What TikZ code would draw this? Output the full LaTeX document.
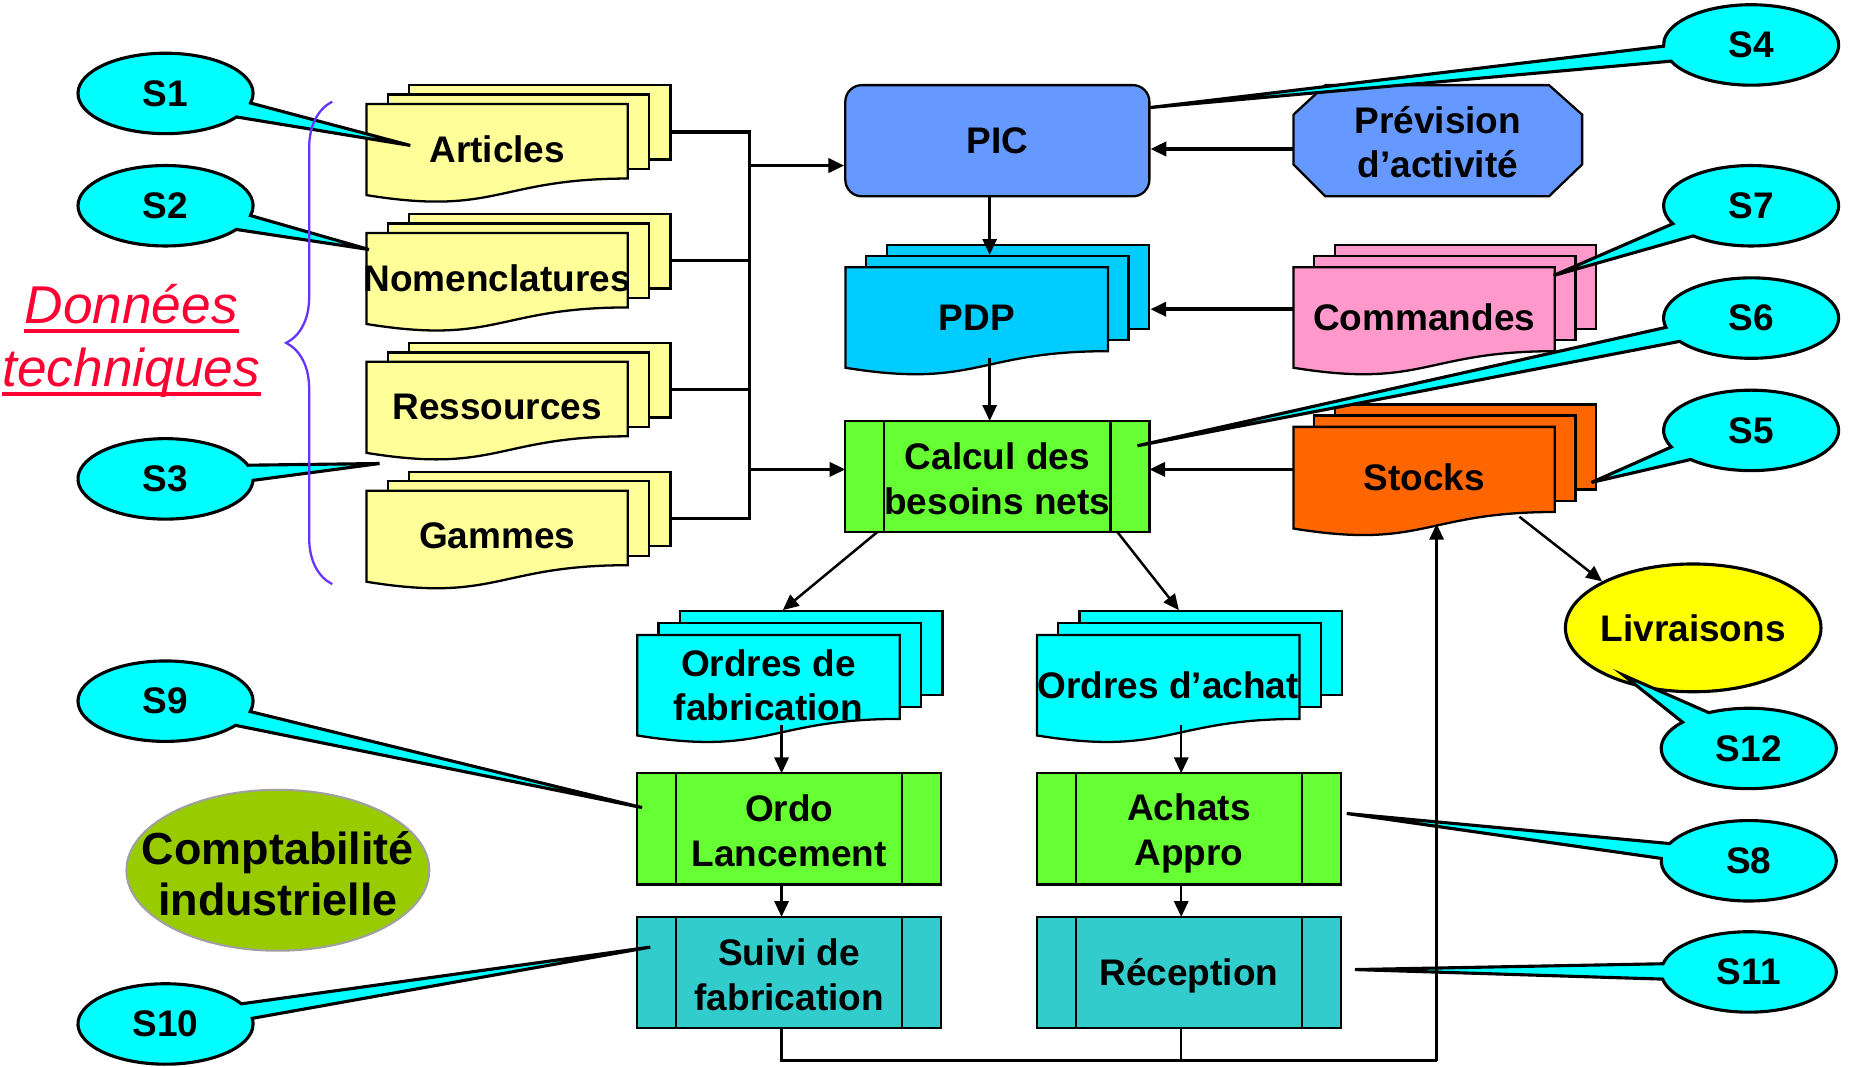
\documentclass[tikz,border=0pt]{standalone}
\usepackage{fontspec}
\setmainfont{Liberation Sans}
\usetikzlibrary{shapes.geometric,shapes.callouts,arrows.meta,calc,decorations.pathreplacing}
\definecolor{yel}{HTML}{FFFF99}
\definecolor{blu}{HTML}{6699FF}
\definecolor{pdpc}{HTML}{00CCFF}
\definecolor{pink}{HTML}{FF99CC}
\definecolor{grn}{HTML}{66FF33}
\definecolor{org}{HTML}{FF6600}
\definecolor{cyn}{HTML}{00FFFF}
\definecolor{teal}{HTML}{33CCCC}
\definecolor{liv}{HTML}{FFFF00}
\definecolor{cmpt}{HTML}{99CC00}
\definecolor{cmptb}{HTML}{A0A0A0}
\definecolor{dred}{HTML}{FF0033}
\definecolor{brc}{HTML}{6633FF}
\newcommand\lblfont{\fontsize{8.9}{10.7}\selectfont\bfseries}
% name, x, y, w, h, dx, dy, colour, text
\newcommand\mdoc[9]{%
  \node[docbox, fill=#8, minimum width={(#4)*0.01cm}, minimum height={(#5)*0.01cm}] (#1-b) at ({#2+2*(#6)+0.5*(#4)},{#3+2*(#7)+0.5*(#5)}) {};
  \node[docbox, fill=#8, minimum width={(#4)*0.01cm}, minimum height={(#5)*0.01cm}] (#1-m) at ({#2+(#6)+0.5*(#4)},{#3+(#7)+0.5*(#5)}) {};
  \node[inner sep=0pt, outer sep=0pt, minimum width={(#4)*0.01cm}, minimum height={(#5)*0.01cm}] (#1) at ({#2+0.5*(#4)},{#3+0.5*(#5)}) {};
  \draw[docline, fill=#8] (#1.north west) -- (#1.north east) -- (#1.south east) .. controls (#1.south) and ($(#1.south)+(0,32)$) .. ($(#1.south west)+(0,14)$) -- cycle;
  \node[lbl] (#1-t) at ($(#1)+(0,7)$) {#9};
}
\newcommand\procbars[1]{%
  \draw[docline] ($(#1.north west)+(33,0)$) -- ($(#1.south west)+(33,0)$);
  \draw[docline] ($(#1.north east)+(-33,0)$) -- ($(#1.south east)+(-33,0)$);
}
\begin{document}
\begin{tikzpicture}[x=0.01cm,y=-0.01cm,
  lbl/.style={font=\lblfont, align=center, inner sep=0pt},
  docbox/.style={rectangle, draw=black, line width=0.55pt, inner sep=0pt},
  docline/.style={draw=black, line width=0.55pt},
  proc/.style={rectangle, draw=black, line width=0.55pt, minimum width=2.57cm, minimum height=0.94cm, inner sep=0pt, outer sep=0pt},
  conn/.style={line width=0.85pt},
  thinconn/.style={line width=0.6pt},
  arr/.style={-{Triangle[length=3.8pt,width=3.4pt]}},
  sball/.style={ellipse callout, draw=black, fill=cyn, line width=0.75pt, minimum width=1.48cm, minimum height=0.68cm, inner sep=0pt, callout pointer arc=22, font=\lblfont},
  dtext/.style={font=\fontsize{12.8}{15}\selectfont\itshape, text=dred, inner sep=0pt}
]
\useasboundingbox (0,0) rectangle (1568,902);

% ---- technical data documents
\mdoc{art}{310}{88}{221}{63}{18}{-8}{yel}{Articles}
\mdoc{nom}{310}{197}{221}{63}{18}{-8}{yel}{Nomenclatures}
\mdoc{res}{310}{306}{221}{63}{18}{-8}{yel}{Ressources}
\mdoc{gam}{310}{415}{221}{63}{18}{-8}{yel}{Gammes}

% ---- PIC and forecast
\node[rectangle, rounded corners=0.14cm, draw=black, fill=blu, line width=0.55pt, minimum width=2.57cm, minimum height=0.94cm, font=\lblfont] (pic) at (843.5,119) {PIC};
\node[inner sep=0pt, outer sep=0pt, minimum width=2.44cm, minimum height=0.94cm] (prev) at (1216,119) {};
\draw[docline, fill=blu] ($(prev.north west)+(27,0)$) -- ($(prev.north east)+(-28,0)$) -- ($(prev.north east)+(0,25)$) -- ($(prev.south east)+(0,-27)$) -- ($(prev.south east)+(-28,0)$) -- ($(prev.south west)+(27,0)$) -- ($(prev.south west)+(0,-27)$) -- ($(prev.north west)+(0,25)$) -- cycle;
\node[lbl] (prev-t) at ($(prev)+(0,1)$) {Prévision\\d’activité};

% ---- PDP, Commandes, Stocks
\mdoc{pdp}{715}{226}{222}{71}{17.5}{-9.5}{pdpc}{PDP}
\mdoc{cmd}{1094}{226}{221}{71}{17.5}{-9.5}{pink}{Commandes}
\mdoc{stocks}{1094}{361}{221}{72}{17.5}{-9.5}{org}{Stocks}

% ---- Calcul des besoins nets
\node[proc, fill=grn] (calc) at (843.5,403) {};
\procbars{calc}
\node[lbl] (calc-t) at ($(calc)+(0,2)$) {Calcul des\\besoins nets};

% ---- orders
\mdoc{ofab}{539}{537}{222}{71}{18}{-10}{cyn}{Ordres de\\fabrication}
\mdoc{oach}{877}{537}{222}{71}{18}{-10}{cyn}{Ordres d’achat}

% ---- processes
\node[proc, fill=grn] (ordo) at (667.5,701) {};
\procbars{ordo}
\node[lbl] (ordo-t) at ($(ordo)+(0,1.5)$) {Ordo\\Lancement};
\node[proc, fill=grn] (achat) at (1005.5,701) {};
\procbars{achat}
\node[lbl] (achat-t) at ($(achat)+(0,4)$) {Achats\\Appro};
\node[proc, fill=teal] (suivi) at (667.5,822.5) {};
\procbars{suivi}
\node[lbl] (suivi-t) at ($(suivi)+(0,2)$) {Suivi de\\fabrication};
\node[proc, fill=teal] (recep) at (1005.5,822.5) {};
\procbars{recep}
\node[lbl] (recep-t) at ($(recep)+(0,3)$) {Réception};

% ---- ellipses
\node[ellipse, draw=black, fill=liv, line width=0.75pt, minimum width=2.16cm, minimum height=1.08cm, inner sep=0pt] (liv) at (1432,531) {};
\node[lbl] (liv-t) at (liv) {Livraisons};
\node[ellipse, draw=cmptb, fill=cmpt, line width=0.5pt, minimum width=2.56cm, minimum height=1.36cm, inner sep=0pt] (compta) at (235,736) {};
\node[inner sep=0pt, align=center, font=\fontsize{10.8}{12.2}\selectfont\bfseries] (compta-t) at ($(compta)+(0,3)$) {Comptabilité\\industrielle};

% ---- Données techniques
\node[dtext, anchor=base] (don1) at (111,273.6) {Données};
\node[dtext, anchor=base] (don2) at (111,326.7) {techniques};
\draw[dred, line width=0.9pt] ($(don1.base west)+(0,6.5)$) -- ($(don1.base east)+(0,6.5)$);
\draw[dred, line width=0.9pt] ($(don2.base west)+(0,6.5)$) -- ($(don2.base east)+(0,6.5)$);

% ---- callouts
\coordinate (p1) at (347,123);
\coordinate (p2) at (312,211);
\coordinate (p3) at (321,392);
\coordinate (p4) at (972,91);
\coordinate (p5) at (1346,408);
\coordinate (p6) at (962,377);
\coordinate (p7) at (1314,233);
\coordinate (p8) at (1139,688);
\coordinate (p9) at (543,683);
\coordinate (p10) at (550,801);
\coordinate (p11) at (1146,820);
\coordinate (p12) at (1373,571);
\node[sball, callout absolute pointer={(p1)}] (s1) at (140,79) {S1};
\node[sball, callout absolute pointer={(p2)}] (s2) at (140,174) {S2};
\node[sball, callout absolute pointer={(p3)}] (s3) at (140,405) {S3};
\node[sball, callout absolute pointer={(p4)}] (s4) at (1481,38) {S4};
\node[sball, callout absolute pointer={(p5)}] (s5) at (1481,364) {S5};
\node[sball, callout absolute pointer={(p6)}] (s6) at (1481,269) {S6};
\node[sball, callout absolute pointer={(p7)}] (s7) at (1481,174) {S7};
\node[sball, callout absolute pointer={(p8)}] (s8) at (1479,728) {S8};
\node[sball, callout absolute pointer={(p9)}] (s9) at (140,593) {S9};
\node[sball, callout absolute pointer={(p10)}] (s10) at (140,866) {S10};
\node[sball, callout absolute pointer={(p11)}] (s11) at (1479,822) {S11};
\node[sball, callout absolute pointer={(p12)}] (s12) at (1479,633) {S12};

% ---- brace
\coordinate (brB) at (281,494);
\coordinate (brT) at (281,86);
\draw[brc, line width=0.55pt, decorate, decoration={brace, amplitude=0.39cm}] (brB) -- (brT);

% ---- connectors
\coordinate (bus) at (634,0);
\coordinate (colC) at (837,0);
\coordinate (colL) at (661,0);
\coordinate (colR) at (999,0);
\coordinate (bot) at (1215,897);
\draw[conn] (art-m.east -| art-b.east) -- (art-m.east -| bus) -- (gam-m.east -| bus) -- (gam-m.east -| gam-b.east);
\draw[conn] (nom-m.east -| nom-b.east) -- (nom-m.east -| bus);
\draw[conn] (res-m.east -| res-b.east) -- (res-m.east -| bus);
\coordinate (picin) at ($(pic.west)+(0,21)$);
\draw[conn, arr] (picin -| bus) -- (picin);
\draw[conn, arr] (stocks.west -| bus) -- (stocks.west -| calc.west);
\draw[conn, arr] (stocks.west) -- (stocks.west -| calc.east);
\draw[conn, arr] ($(prev.west)+(0,7)$) -- ($(pic.east)+(0,7)$);
\draw[conn, arr] (cmd.west) -- (cmd.west -| pdp-b.east);
\draw[thinconn, arr] (pic.south -| colC) -- (pdp-m.north -| colC);
\draw[thinconn, arr] ($(pdp.south -| colC)+(0,6)$) -- (calc.north -| colC);
\draw[thinconn, arr] ($(calc.south west)+(27,0)$) -- ($(ofab-b.north west)+(88,0)$);
\draw[thinconn, arr] ($(calc.south east)+(-27,0)$) -- ($(oach-b.north west)+(85,0)$);
\draw[thinconn, arr] ($(ofab.south -| colL)+(0,5)$) -- (ordo.north -| colL);
\draw[thinconn, arr] ($(oach.south -| colR)+(0,5)$) -- (achat.north -| colR);
\draw[thinconn, arr] (ordo.south -| colL) -- (suivi.north -| colL);
\draw[thinconn, arr] (achat.south -| colR) -- (recep.north -| colR);
\draw[thinconn] (suivi.south -| colL) -- (bot -| colL) -- (bot);
\draw[thinconn] (recep.south -| colR) -- (bot -| colR);
\draw[thinconn, arr] (bot) -- ($(stocks.south)+(10.5,10)$);
\draw[thinconn, arr] ($(stocks.south east)+(-30,4)$) -- (liv.153);
\end{tikzpicture}
\end{document}
